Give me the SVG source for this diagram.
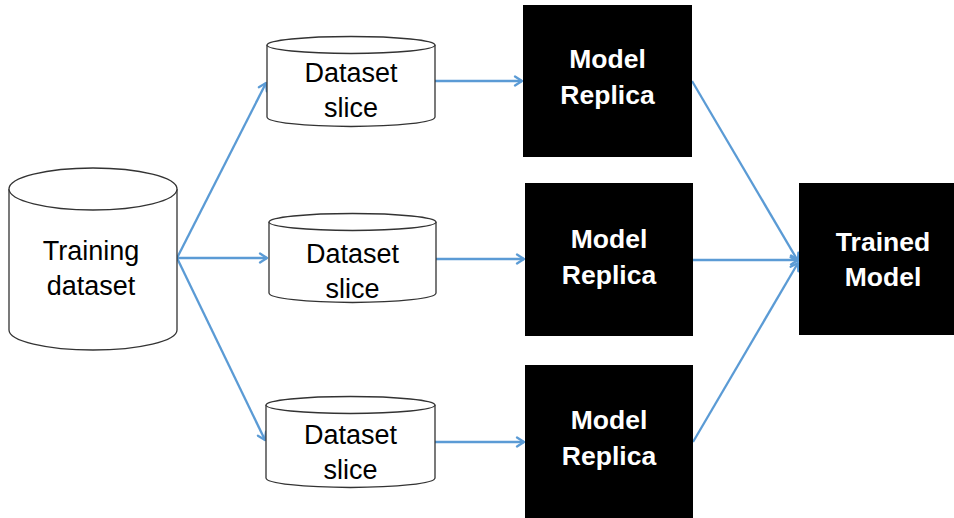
<svg xmlns="http://www.w3.org/2000/svg" width="954" height="518" viewBox="0 0 954 518">
  <style>
    .cyl { fill: #ffffff; stroke: #333333; stroke-width: 1.3; }
    .box { fill: #000000; }
    .lbl { font-family: "Liberation Sans", Arial, sans-serif; font-size: 27px; fill: #000000; text-anchor: middle; }
    .blbl { font-family: "Liberation Sans", Arial, sans-serif; font-size: 26.5px; font-weight: bold; fill: #ffffff; text-anchor: middle; }
    .edge { stroke: #5B9BD5; stroke-width: 2.3; fill: none; }
  </style>
  <defs>
    <marker id="arrow" markerUnits="userSpaceOnUse" markerWidth="12" markerHeight="12" viewBox="0 0 12 12" refX="9" refY="6" orient="auto">
      <path d="M2,1.5 L9,6 L2,10.5" fill="none" stroke="#5B9BD5" stroke-width="2.3" stroke-linecap="round" stroke-linejoin="round"/>
    </marker>
  </defs>
  <rect width="954" height="518" fill="#ffffff"/>

  <!-- connectors -->
  <g id="connectors">
    <line class="edge" x1="177" y1="258" x2="266" y2="83" marker-end="url(#arrow)"/>
    <line class="edge" x1="177" y1="258" x2="267" y2="258" marker-end="url(#arrow)"/>
    <line class="edge" x1="177" y1="258" x2="265" y2="440" marker-end="url(#arrow)"/>
    <line class="edge" x1="435" y1="81" x2="522" y2="81" marker-end="url(#arrow)"/>
    <line class="edge" x1="436" y1="259" x2="524" y2="259" marker-end="url(#arrow)"/>
    <line class="edge" x1="435" y1="442" x2="524" y2="442" marker-end="url(#arrow)"/>
    <line class="edge" x1="692" y1="81" x2="798" y2="261" marker-end="url(#arrow)"/>
    <line class="edge" x1="693" y1="260" x2="798" y2="260" marker-end="url(#arrow)"/>
    <line class="edge" x1="693" y1="442" x2="798" y2="263" marker-end="url(#arrow)"/>
  </g>

  <!-- source dataset -->
  <g id="training-dataset">
    <path class="cyl" d="M9,189 V330 A84,20 0 0 0 177,330 V189"/>
    <ellipse class="cyl" cx="93" cy="189" rx="84" ry="21"/>
    <text class="lbl" x="91" y="260">Training</text>
    <text class="lbl" x="91" y="295">dataset</text>
  </g>

  <!-- dataset slices -->
  <g id="slice-1">
    <path class="cyl" d="M267,45 V117 A84,9.5 0 0 0 435,117 V45"/>
    <ellipse class="cyl" cx="351" cy="45" rx="84" ry="8.5"/>
    <text class="lbl" x="351" y="82">Dataset</text>
    <text class="lbl" x="351" y="117">slice</text>
  </g>
  <g id="slice-2">
    <path class="cyl" d="M269,222 V293 A83.5,9.5 0 0 0 436,293 V222"/>
    <ellipse class="cyl" cx="352.5" cy="222" rx="83.5" ry="8.5"/>
    <text class="lbl" x="352.5" y="263">Dataset</text>
    <text class="lbl" x="352.5" y="298">slice</text>
  </g>
  <g id="slice-3">
    <path class="cyl" d="M266,405 V478 A84.5,9.5 0 0 0 435,478 V405"/>
    <ellipse class="cyl" cx="350.5" cy="405" rx="84.5" ry="8.5"/>
    <text class="lbl" x="350.5" y="444">Dataset</text>
    <text class="lbl" x="350.5" y="479">slice</text>
  </g>

  <!-- model replicas -->
  <g id="replica-1">
    <rect class="box" x="523" y="5" width="169" height="152"/>
    <text class="blbl" x="607.5" y="68">Model</text>
    <text class="blbl" x="607.5" y="104">Replica</text>
  </g>
  <g id="replica-2">
    <rect class="box" x="525" y="183" width="168" height="153"/>
    <text class="blbl" x="609" y="248">Model</text>
    <text class="blbl" x="609" y="284">Replica</text>
  </g>
  <g id="replica-3">
    <rect class="box" x="525" y="365" width="168" height="153"/>
    <text class="blbl" x="609" y="429">Model</text>
    <text class="blbl" x="609" y="465">Replica</text>
  </g>

  <!-- merged result -->
  <g id="trained-model">
    <rect class="box" x="799" y="183" width="168" height="152"/>
    <text class="blbl" x="883" y="251">Trained</text>
    <text class="blbl" x="883" y="286">Model</text>
  </g>
</svg>
